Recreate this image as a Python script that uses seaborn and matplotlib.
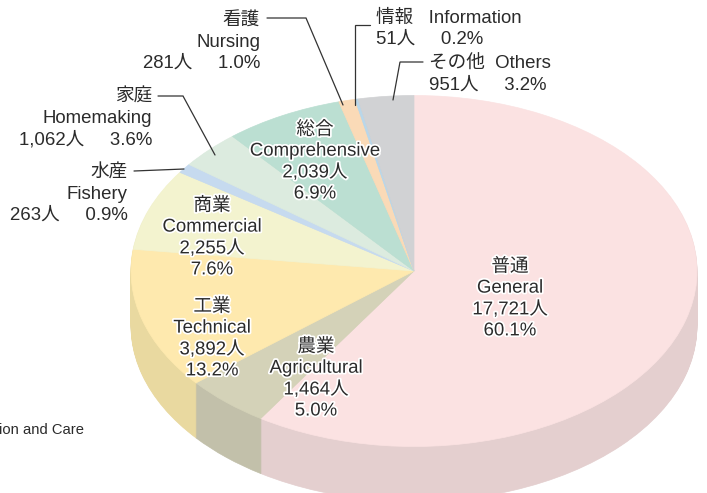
import matplotlib
matplotlib.use('Agg')
import matplotlib.pyplot as plt
import matplotlib.patheffects as pe
import seaborn as sns

# Data
names_ja = ['普通', '農業', '工業', '商業', '水産', '家庭', '総合', '看護', '情報', 'その他']
names_en = ['General', 'Agricultural', 'Technical', 'Commercial', 'Fishery', 'Homemaking',
            'Comprehensive', 'Nursing', 'Information', 'Others']
students = [17721, 1464, 3892, 2255, 263, 1062, 2039, 281, 51, 951]
percents = [60.1, 5.0, 13.2, 7.6, 0.9, 3.6, 6.9, 1.0, 0.2, 3.2]

top_colors = ['#FBE2E2', '#D4D2B8', '#FEE9AE', '#F3F3CF', '#C6DAEF', '#DCEBDF', '#BBDFD2', '#FADAB7', '#B9D7EA', '#D1D2D4']
side_colors = ['#E4CFCF', '#C2C0AA', '#E9D9A0', '#E0E0C0', '#B8CADD', '#CBD8CE', '#ACCEC2', '#E6C9A9', '#ABC7D8', '#C1C2C4']

W, H = 707, 493
CX, CY, RX, RY, DEPTH = 414, 271, 283, 175.5, 55
TEXT = '#2B2B2B'

sns.set_theme(style='white')
plt.rcParams['font.family'] = ['Liberation Sans', 'Noto Sans CJK JP']

fig = plt.figure(figsize=(W / 100, H / 100), dpi=100)
ax = fig.add_axes([0, 0, 1, 1])
scale = RX / RY


def yd(py):
    # pixel row to data y
    return (H - py) * scale


def draw_pie(colors, py):
    wedges, _ = ax.pie(students, colors=sns.color_palette(colors), startangle=90, counterclock=False,
                       radius=RX, center=(CX, yd(py)))
    for w in wedges:
        w.set_edgecolor(w.get_facecolor())
        w.set_linewidth(0.5)


# side wall: same pie stacked downwards
for d in range(DEPTH, 0, -1):
    draw_pie(side_colors, CY + d)
draw_pie(top_colors, CY)

ax.set_aspect('auto')
ax.set_xlim(0, W)
ax.set_ylim(0, H * scale)
ax.axis('off')


def label(i):
    return f'{students[i]:,}人'


def put(px, py, s, ha='center', halo=False, size=13.4):
    t = fig.text(px / W, 1 - py / H, s, ha=ha, va='center', fontsize=size, color=TEXT,
                 linespacing=1.31, multialignment=ha)
    if halo:
        t.set_path_effects([pe.withStroke(linewidth=2.5, foreground='white')])


# labels inside the pie
inside = {0: (510, 299), 1: (316, 379), 2: (212, 339), 3: (212, 238), 6: (315, 162)}
for i, (px, py) in inside.items():
    put(px, py, f'{names_ja[i]}\n{names_en[i]}\n{label(i)}\n{percents[i]}%', halo=True)

# labels outside the pie
gap = '     '
put(260, 42, f'{names_ja[7]}\n{names_en[7]}\n{label(7)}{gap}{percents[7]}%', ha='right')
put(152, 119, f'{names_ja[5]}\n{names_en[5]}\n{label(5)}{gap}{percents[5]}%', ha='right')
put(128, 194, f'{names_ja[4]}\n{names_en[4]}\n{label(4)}{gap}{percents[4]}%', ha='right')
put(376, 29, f'{names_ja[8]}   {names_en[8]}\n{label(8)}{gap}{percents[8]}%', ha='left')
put(429, 75, f'{names_ja[9]}  {names_en[9]}\n{label(9)}{gap}{percents[9]}%', ha='left')
put(-1, 430, 'ion and Care', ha='left', size=10.6)

# leader lines
leaders = [
    [(267, 18), (306, 18), (343, 105)],
    [(370, 25), (355, 25), (355, 105)],
    [(423, 62), (400, 62), (393, 100)],
    [(158, 96), (183, 96), (215, 155)],
    [(134, 171), (184, 169)],
]
for pts in leaders:
    ax.plot([p[0] for p in pts], [yd(p[1]) for p in pts], color='#333333', lw=0.9, solid_joinstyle='miter')

fig.savefig('out.png', dpi=100, facecolor='white')
plt.close(fig)
